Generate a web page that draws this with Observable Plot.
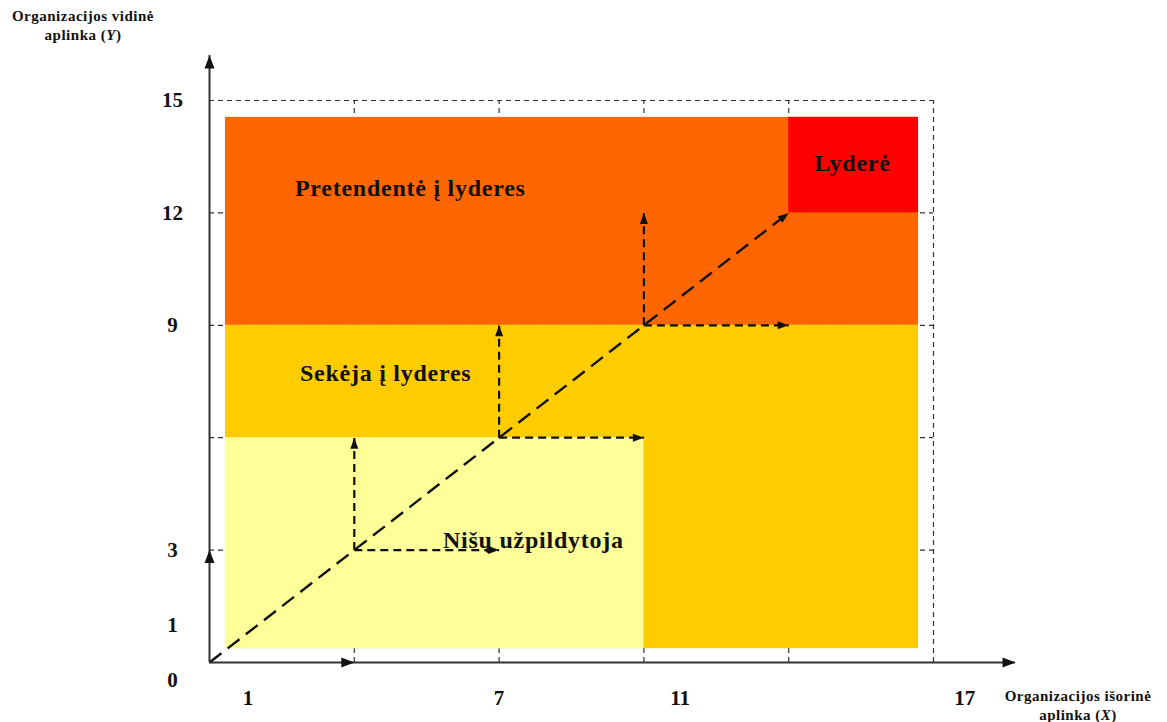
<!DOCTYPE html>
<html>
<head>
<meta charset="utf-8">
<script src="https://cdn.jsdelivr.net/npm/d3@7"></script>
<script src="https://cdn.jsdelivr.net/npm/@observablehq/plot@0.6"></script>
<style>
  html, body { margin: 0; padding: 0; background: #fff; }
  #wrap { position: relative; width: 1167px; height: 722px; font-family: "Liberation Serif", "DejaVu Serif", serif; }
  .atitle { position: absolute; font-weight: bold; font-size: 15px; line-height: 19px; text-align: center; color: #111; letter-spacing: 0.5px; }
</style>
</head>
<body>
<div id="wrap">
  <div class="atitle" style="left:0px; top:7px; width:166px;">Organizacijos vidinė<br>aplinka (<i>Y</i>)</div>
  <div class="atitle" style="left:990px; top:687px; width:176px;">Organizacijos išorinė<br>aplinka (<i>X</i>)</div>
</div>
<script>
// ---- data ----
const gridX = [3, 6, 9, 12, 15];
const gridY = [3, 6, 9, 12, 15];

const regionNames = ["Sekėja", "Nišų", "Pretendentė", "Lyderė"];
const regionX1 = [0.33, 0.33, 0.33, 12];
const regionX2 = [14.69, 9, 14.69, 14.69];
const regionY1 = [0.37, 0.37, 9, 12];
const regionY2 = [9, 6, 14.55, 14.55];

const labelText = ["Pretendentė į lyderes", "Lyderė", "Sekėja į lyderes", "Nišų užpildytoja"];
const labelX = [4.16, 13.32, 3.65, 6.71];
const labelY = [12.65, 13.32, 7.71, 3.26];

const yTickText = ["0", "1", "3", "9", "12", "15"];
const yTickAt = [-0.48, 1, 3, 9, 12, 15];
const xTickText = ["1", "7", "11", "17"];
const xTickAt = [0.8, 6, 9.75, 15.65];

// dashed step arrows (from -> to)
const stepFromX = [3, 3, 6, 6, 9, 9];
const stepFromY = [3, 3, 6, 6, 9, 9];
const stepToX = [6, 3, 9, 6, 12, 9];
const stepToY = [3, 6, 6, 9, 9, 12];

// diagonal arrow
const diagFrom = [0, 0];
const diagTo = [12, 12];

// axes (origin -> end), with intermediate arrow marks
const xAxisEnd = 16.7;
const yAxisEnd = 16.2;
const axisMarkX = 3;
const axisMarkY = 3;

// ---- build ----
const regions = regionNames.map((n, i) => ({name: n, x1: regionX1[i], x2: regionX2[i], y1: regionY1[i], y2: regionY2[i]}));
const labels = labelText.map((t, i) => ({t, x: labelX[i], y: labelY[i]}));
const yTicks = yTickText.map((t, i) => ({t, y: yTickAt[i]}));
const xTicks = xTickText.map((t, i) => ({t, x: xTickAt[i]}));
const steps = stepFromX.map((_, i) => ({x1: stepFromX[i], y1: stepFromY[i], x2: stepToX[i], y2: stepToY[i]}));

const W = 1167, H = 722;
const xRange = [209, 933], yRange = [662, 100];
const kx = (xRange[1] - xRange[0]) / 15;
const ky = (yRange[0] - yRange[1]) / 15;
function angleOf(dx, dy) { // data delta -> clockwise degrees from up
  return Math.atan2(dx * kx, dy * ky) * 180 / Math.PI;
}
function arrowSymbol(L, Wd) {
  return {
    draw(ctx) {
      ctx.moveTo(0, 0);
      ctx.lineTo(-Wd / 2, L);
      ctx.lineTo(Wd / 2, L);
      ctx.closePath();
    }
  };
}
const heads = steps.map(d => ({x: d.x2, y: d.y2, a: angleOf(d.x2 - d.x1, d.y2 - d.y1)}));
heads.push({x: diagTo[0], y: diagTo[1], a: angleOf(diagTo[0] - diagFrom[0], diagTo[1] - diagFrom[1])});
const axisHeads = [
  {x: xAxisEnd, y: 0, a: 90},
  {x: 0, y: yAxisEnd, a: 0},
  {x: axisMarkX, y: 0, a: 90},
  {x: 0, y: axisMarkY, a: 0}
];

const plot = Plot.plot({
  width: W, height: H, margin: 0,
  style: {background: "transparent", fontFamily: "'Liberation Serif', serif", overflow: "visible"},
  x: {domain: [0, 15], range: xRange, axis: null},
  y: {domain: [0, 15], range: yRange, axis: null},
  color: {domain: regionNames, range: ["#FFCC00", "#FFFF99", "#FF6600", "#FF0000"]},
  marks: [
    Plot.ruleX(gridX, {y1: 0, y2: 15, stroke: "#333", strokeWidth: 1.2, strokeDasharray: "5,4"}),
    Plot.ruleY(gridY, {x1: 0, x2: 15, stroke: "#333", strokeWidth: 1.2, strokeDasharray: "5,4"}),
    Plot.rect(regions, {x1: "x1", x2: "x2", y1: "y1", y2: "y2", fill: "name"}),
    Plot.text(labels, {x: "x", y: "y", text: "t", fontSize: 24, fontWeight: "bold", fill: "#111"}),
    // step arrows
    Plot.link(steps, {x1: "x1", y1: "y1", x2: "x2", y2: "y2", stroke: "#111", strokeWidth: 2.2, strokeDasharray: "8,5"}),
    // diagonal
    Plot.link([{x1: diagFrom[0], y1: diagFrom[1], x2: diagTo[0], y2: diagTo[1]}], {x1: "x1", y1: "y1", x2: "x2", y2: "y2", stroke: "#111", strokeWidth: 2.4, strokeDasharray: "15,8"}),
    Plot.dot(heads, {x: "x", y: "y", rotate: "a", symbol: arrowSymbol(11, 8), fill: "#111", stroke: "none", r: 4}),
    // axes
    Plot.ruleY([0], {x1: 0, x2: xAxisEnd, stroke: "#333", strokeWidth: 2}),
    Plot.ruleX([0], {y1: 0, y2: yAxisEnd, stroke: "#333", strokeWidth: 2}),
    Plot.dot(axisHeads, {x: "x", y: "y", rotate: "a", symbol: arrowSymbol(13, 10), fill: "#111", stroke: "none", r: 5}),
    // tick labels
    Plot.text(yTicks, {x: 0, y: "y", text: "t", dx: -37, fontSize: 21, fontWeight: "bold", fill: "#111"}),
    Plot.text(xTicks, {x: "x", y: 0, text: "t", dy: 36, fontSize: 21, fontWeight: "bold", fill: "#111"})
  ]
});
// widen the region labels a little, as in the original
d3.select(plot).selectAll("text")
  .filter(function() { return labelText.includes(this.textContent); })
  .style("letter-spacing", "0.75px");
plot.style.position = "absolute";
plot.style.left = "0px";
plot.style.top = "0px";
document.getElementById("wrap").prepend(plot);
</script>
</body>
</html>
